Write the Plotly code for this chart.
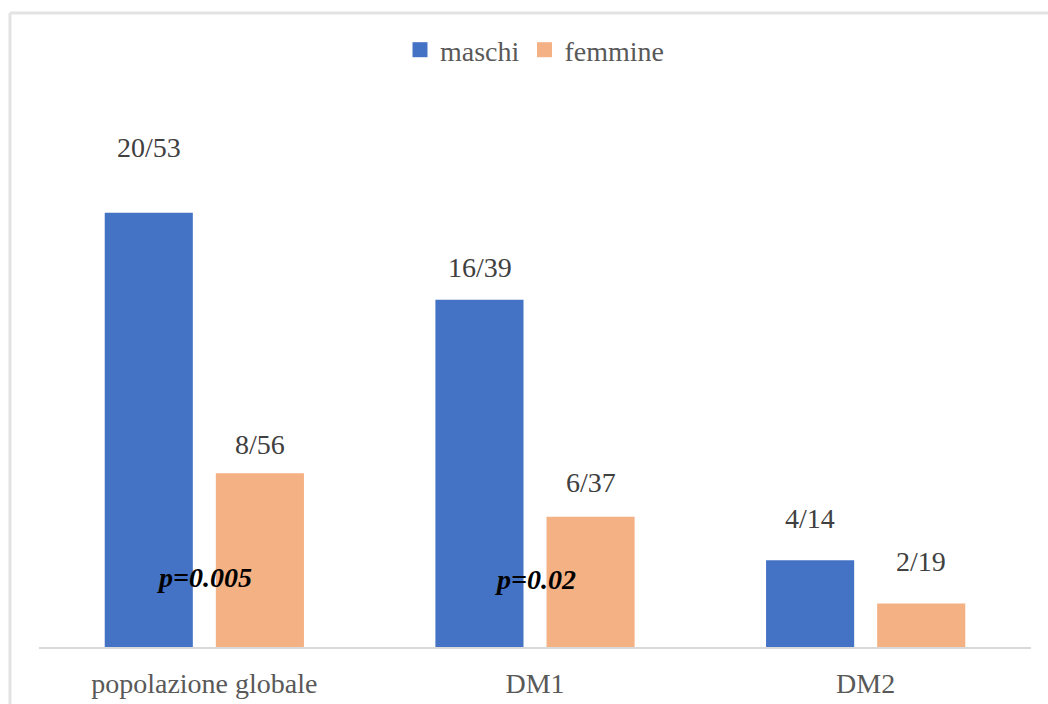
import plotly.graph_objects as go

# Dati
categorie = ["popolazione globale", "DM1", "DM2"]
maschi = [20, 16, 4]
femmine = [8, 6, 2]
etichette_maschi = ["20/53", "16/39", "4/14"]
etichette_femmine = ["8/56", "6/37", "2/19"]
p_valori = ["p=0.005", "p=0.02", ""]

# Altezza (in unità dell'asse y) delle etichette sopra le barre
y_etichette_maschi = [23.0, 17.5, 5.9]
y_etichette_femmine = [9.35, 7.6, 3.96]
y_p = [3.2, 3.1, 0]

BLU = "#4472C4"
ARANCIO = "#F4B183"
FONT = "Liberation Serif, Times New Roman, serif"
FS = 28

W, H = 1048, 704
M_L, M_R, M_T, M_B = 39, 17, 100, 57
Y_MAX = 25.2

fig = go.Figure()
fig.add_trace(go.Bar(name="maschi", x=categorie, y=maschi, marker_color=BLU,
                     marker_line_width=0, showlegend=False))
fig.add_trace(go.Bar(name="femmine", x=categorie, y=femmine, marker_color=ARANCIO,
                     marker_line_width=0, showlegend=False))

# Voci di legenda con quadratini più grandi
for nome, col in (("maschi", BLU), ("femmine", ARANCIO)):
    fig.add_trace(go.Scatter(name=nome, x=[None], y=[None], mode="markers",
                             marker=dict(symbol="square", size=15, color=col),
                             showlegend=True, hoverinfo="skip"))

annotazioni = []
offset_px = 55.5  # mezzo passo di gruppo in pixel
for i, cat in enumerate(categorie):
    annotazioni.append(dict(x=cat, y=y_etichette_maschi[i], text=etichette_maschi[i],
                            xshift=-offset_px, showarrow=False,
                            font=dict(family=FONT, size=FS, color="#404040")))
    annotazioni.append(dict(x=cat, y=y_etichette_femmine[i], text=etichette_femmine[i],
                            xshift=offset_px, showarrow=False,
                            font=dict(family=FONT, size=FS, color="#404040")))
    if p_valori[i]:
        annotazioni.append(dict(x=cat, y=y_p[i], text="<b><i>" + p_valori[i] + "</i></b>",
                                showarrow=False,
                                font=dict(family=FONT, size=FS, color="#000000")))

# Cornice grigia (bordi superiore e sinistro)
pw = W - M_L - M_R
ph = H - M_T - M_B
def px_x(x):
    return (x - M_L) / pw
def px_y(y):
    return (H - M_B - y) / ph

shapes = [
    dict(type="line", xref="paper", yref="paper", x0=px_x(10), x1=px_x(W + 5),
         y0=px_y(13), y1=px_y(13), line=dict(color="#e3e3e3", width=3)),
    dict(type="line", xref="paper", yref="paper", x0=px_x(10), x1=px_x(10),
         y0=px_y(13), y1=px_y(H + 5), line=dict(color="#e3e3e3", width=3)),
]

fig.update_layout(
    width=W, height=H,
    margin=dict(l=M_L, r=M_R, t=M_T, b=M_B),
    paper_bgcolor="white", plot_bgcolor="white",
    barmode="group", bargap=0.328, bargroupgap=0.207,
    font=dict(family=FONT, size=FS, color="#595959"),
    legend=dict(orientation="h", x=0.5, xanchor="center", y=px_y(50), yanchor="middle",
                font=dict(family=FONT, size=FS, color="#595959"),
                itemwidth=30, itemsizing="trace", tracegroupgap=0,
                bgcolor="rgba(0,0,0,0)"),
    annotations=annotazioni,
    shapes=shapes,
)
fig.update_xaxes(showline=True, linecolor="#d9d9d9", linewidth=2, ticks="",
                 ticklabelstandoff=10, automargin=False,
                 tickfont=dict(family=FONT, size=FS, color="#595959"),
                 showgrid=False, zeroline=False, fixedrange=True)
fig.update_yaxes(range=[0, Y_MAX], visible=False, showgrid=False, zeroline=False,
                 automargin=False)

fig.write_html("out.html")
